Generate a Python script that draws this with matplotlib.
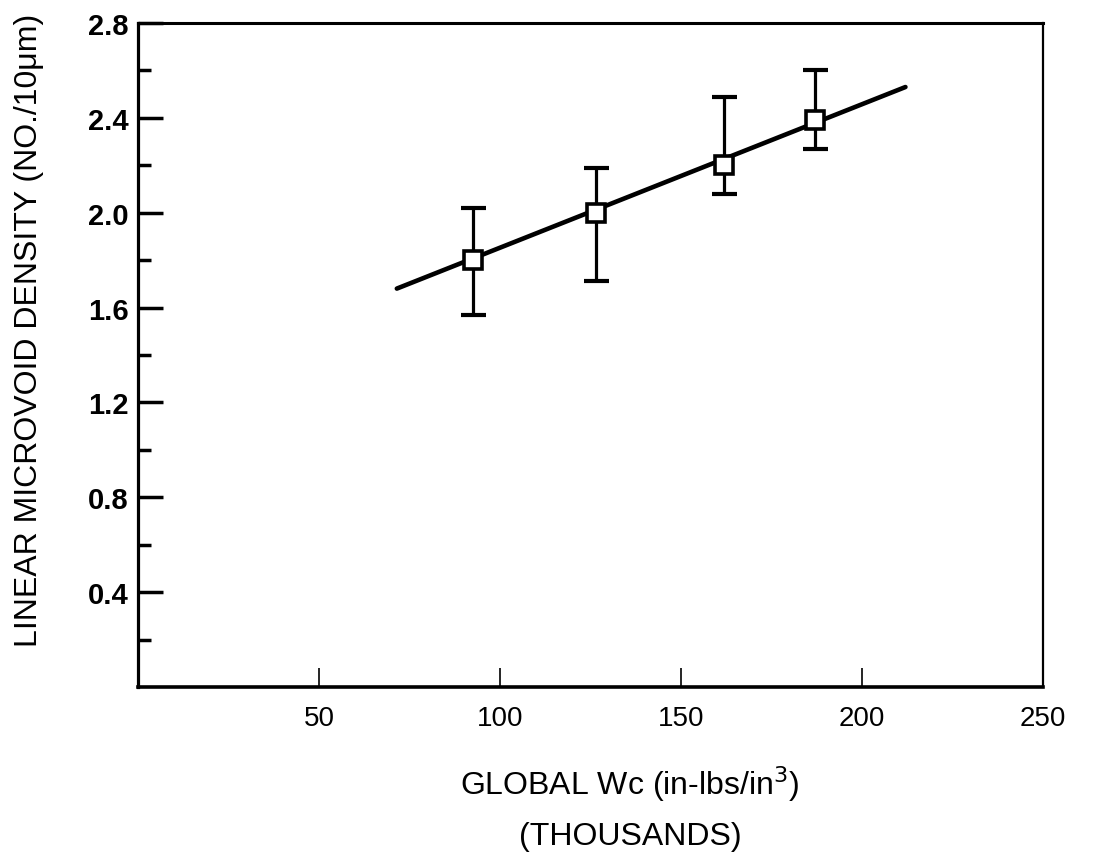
import matplotlib
matplotlib.use("Agg")
import matplotlib.pyplot as plt
from matplotlib.ticker import FixedLocator

plt.rcParams['font.family'] = ['Liberation Sans', 'DejaVu Sans']

# Data (x in thousands of in-lbs/in^3)
wc = [92.5, 126.5, 162.0, 187.0]
density = [1.80, 2.00, 2.20, 2.39]
err_low = [0.23, 0.29, 0.12, 0.12]
err_high = [0.22, 0.19, 0.29, 0.21]

fit_x = [71.5, 212.0]
fit_y = [1.68, 2.53]

x_ticks = [50, 100, 150, 200, 250]
y_ticks = [0.4, 0.8, 1.2, 1.6, 2.0, 2.4, 2.8]
y_minor = [0.2, 0.6, 1.0, 1.4, 1.8, 2.2, 2.6]

fig = plt.figure(figsize=(10.97, 8.54), dpi=100)
ax = fig.add_axes([138 / 1097, 1 - 688 / 854, (1043 - 138) / 1097, (688 - 24) / 854])

ax.plot(fit_x, fit_y, color='black', lw=3.3, solid_capstyle='round', zorder=2)
ax.errorbar(wc, density, yerr=[err_low, err_high], fmt='none', ecolor='black',
            elinewidth=2.3, capsize=9, capthick=3.0, zorder=3)
ax.plot(wc, density, linestyle='none', marker='s', markersize=13.5,
        markerfacecolor='white', markeredgecolor='black', markeredgewidth=2.6, zorder=4)

ax.set_xlim(0, 250)
ax.set_ylim(0, 2.8)

ax.xaxis.set_major_locator(FixedLocator(x_ticks))
ax.yaxis.set_major_locator(FixedLocator(y_ticks))
ax.yaxis.set_minor_locator(FixedLocator(y_minor))
ax.set_xticklabels([str(v) for v in x_ticks])
ax.set_yticklabels([f"{v:.1f}" for v in y_ticks])

ax.tick_params(axis='x', which='major', direction='in', length=14, width=1.2,
               labelsize=20, pad=13, top=False)
ax.tick_params(axis='y', which='major', direction='in', length=18, width=2.5,
               labelsize=21, pad=7, right=False)
ax.tick_params(axis='y', which='minor', direction='in', length=9, width=2.5, right=False)
ax.tick_params(axis='x', which='minor', bottom=False, top=False)
for lbl in ax.get_yticklabels():
    lbl.set_fontweight('bold')

for side, lw in [('left', 2.3), ('bottom', 2.6), ('top', 2.2), ('right', 1.6)]:
    ax.spines[side].set_linewidth(lw)
    ax.spines[side].set_color('black')

fig.text(0.026, 1 - 330 / 854, "LINEAR MICROVOID DENSITY (NO./10\u03bcm)",
         rotation=90, ha='center', va='center', fontsize=23)
fig.text(630 / 1097, 1 - 795 / 854, "GLOBAL Wc (in-lbs/in$^{3}$)",
         ha='center', va='baseline', fontsize=23)
fig.text(630 / 1097, 1 - 845 / 854, "(THOUSANDS)",
         ha='center', va='baseline', fontsize=23)

fig.savefig("out.png", dpi=100, facecolor='white')
